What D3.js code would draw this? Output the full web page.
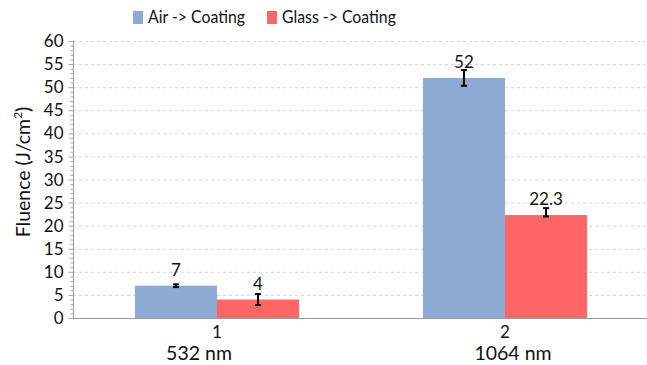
<!DOCTYPE html>
<html>
<head>
<meta charset="utf-8">
<script src="https://cdn.jsdelivr.net/npm/d3@7"></script>
<style>
  html, body { margin: 0; padding: 0; background: #fff; }
  svg { display: block; font-family: Lato, "Open Sans", sans-serif; }
</style>
</head>
<body>
<svg id="chart" width="647" height="365"></svg>
<script>
// Laser damage threshold fluence per wavelength
const categories = ["1", "2"];
const wavelengths = ["532 nm", "1064 nm"];
const seriesNames = ["Air -> Coating", "Glass -> Coating"];
const airValues = [7, 52];
const glassValues = [4, 22.3];
const airErrMinus = [0.3, 1.7];
const airErrPlus = [0.3, 1.7];
const glassErrMinus = [1.2, 0.3];
const glassErrPlus = [1.2, 1.5];
const yTicks = [0, 5, 10, 15, 20, 25, 30, 35, 40, 45, 50, 55, 60];

const colors = ["#8caad4", "#fe6666"];
const series = [
  { name: seriesNames[0], values: airValues, lo: airErrMinus, hi: airErrPlus, color: colors[0] },
  { name: seriesNames[1], values: glassValues, lo: glassErrMinus, hi: glassErrPlus, color: colors[1] }
];

const svg = d3.select("#chart");
const margin = { left: 73, right: -2, top: 41, bottom: 47 };
const W = 647, H = 365;
const x0 = margin.left, x1 = W - margin.right;
const yBottom = H - margin.bottom, yTop = margin.top;

const y = d3.scaleLinear().domain([0, 60]).range([yBottom, yTop]);
const x = d3.scaleBand().domain(categories).range([x0, x1]).paddingInner(0.43).paddingOuter(0.215);
const xs = d3.scaleBand().domain(seriesNames).range([0, x.bandwidth()]);

// dashed gridlines
svg.append("g").selectAll("line").data(yTicks.filter(d => d > 0)).join("line")
  .attr("x1", x0).attr("x2", x1)
  .attr("y1", d => y(d) + 0.5).attr("y2", d => y(d) + 0.5)
  .attr("stroke", "#d4d4d4").attr("stroke-width", 1).attr("stroke-dasharray", "3,3");

// bars
const groups = svg.append("g").selectAll("g").data(series).join("g");
groups.selectAll("rect").data(s => s.values.map((v, i) => ({ v, i, s })))
  .join("rect")
  .attr("x", d => x(categories[d.i]) + xs(d.s.name))
  .attr("width", xs.bandwidth())
  .attr("y", d => y(d.v))
  .attr("height", d => y(0) - y(d.v))
  .attr("fill", d => d.s.color);

// error bars
const eb = svg.append("g").attr("stroke", "#000").attr("stroke-width", 2);
series.forEach(s => {
  s.values.forEach((v, i) => {
    const cx = x(categories[i]) + xs(s.name) + xs.bandwidth() / 2;
    const top = y(v + s.hi[i]), bot = y(v - s.lo[i]);
    eb.append("line").attr("x1", cx).attr("x2", cx).attr("y1", top).attr("y2", bot);
    eb.append("line").attr("x1", cx - 3).attr("x2", cx + 3).attr("y1", top).attr("y2", top);
    eb.append("line").attr("x1", cx - 3).attr("x2", cx + 3).attr("y1", bot).attr("y2", bot);
  });
});

// value labels
series.forEach(s => {
  s.values.forEach((v, i) => {
    const cx = x(categories[i]) + xs(s.name) + xs.bandwidth() / 2;
    svg.append("text").attr("x", cx).attr("y", y(v) - 10)
      .attr("text-anchor", "middle").attr("font-size", 17).attr("fill", "#111")
      .text(String(v));
  });
});

// y axis
const yAxis = svg.append("g").attr("transform", `translate(${x0 + 0.5},0)`);
yAxis.append("line").attr("y1", yTop).attr("y2", yBottom).attr("stroke", "#9a9a9a");
yAxis.selectAll("line.minor").data(d3.range(0, 61)).join("line").attr("class", "minor")
  .attr("x1", d => d % 5 === 0 ? -5 : -3).attr("x2", 0)
  .attr("y1", d => y(d) + 0.5).attr("y2", d => y(d) + 0.5)
  .attr("stroke", "#a8a8a8");
yAxis.selectAll("text").data(yTicks).join("text")
  .attr("x", -10).attr("y", d => y(d)).attr("dy", "0.36em")
  .attr("text-anchor", "end").attr("font-size", 17).attr("fill", "#111")
  .text(d => d);

// x axis
svg.append("line").attr("x1", x0).attr("x2", x1)
  .attr("y1", yBottom + 0.5).attr("y2", yBottom + 0.5).attr("stroke", "#9a9a9a");
const subLabelShift = [-18, 8];
categories.forEach((c, i) => {
  const cx = x(c) + x.bandwidth() / 2;
  svg.append("text").attr("x", cx).attr("y", yBottom + 20)
    .attr("text-anchor", "middle").attr("font-size", 17).attr("fill", "#111").text(c);
  svg.append("text").attr("x", cx + subLabelShift[i]).attr("y", yBottom + 42)
    .attr("text-anchor", "middle").attr("font-size", 19.5).attr("fill", "#111").text(wavelengths[i]);
});

// y axis title
const yt = svg.append("text")
  .attr("transform", `translate(30,172) rotate(-90)`)
  .attr("text-anchor", "middle").attr("font-size", 19.5).attr("fill", "#111");
yt.append("tspan").text("Fluence (J/cm");
yt.append("tspan").attr("font-size", 12).attr("dy", -8).text("2");
yt.append("tspan").attr("dy", 8).text(")");

// legend
const legend = svg.append("g");
const legX = [133, 267];
series.forEach((s, i) => {
  legend.append("rect").attr("x", legX[i]).attr("y", 11).attr("width", 10).attr("height", 13).attr("fill", s.color);
  legend.append("text")
    .attr("transform", `translate(${legX[i] + 15},17) scale(0.88,1)`)
    .attr("dy", "0.36em")
    .attr("font-size", 18).attr("fill", "#111").text(s.name);
});
</script>
</body>
</html>
